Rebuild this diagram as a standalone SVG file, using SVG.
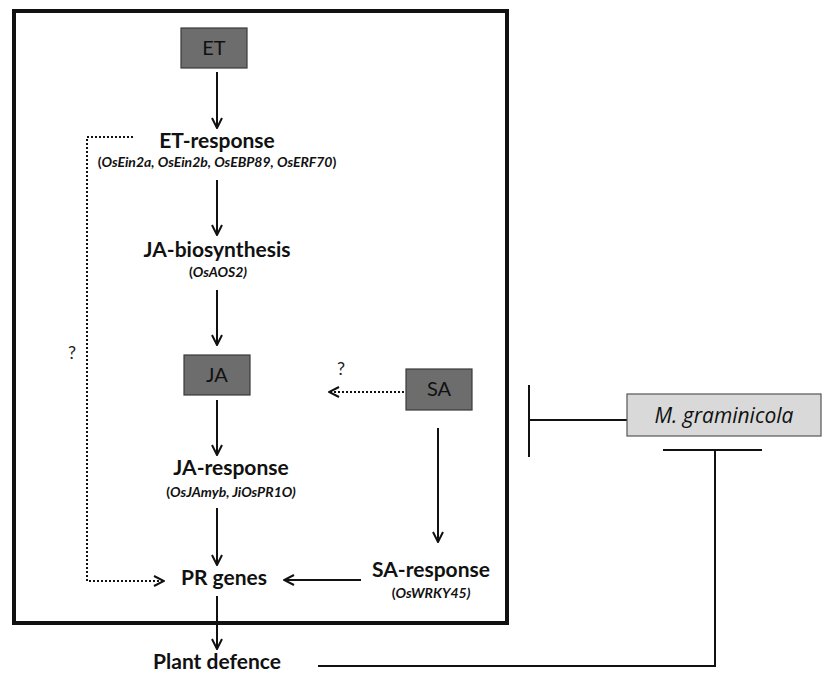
<svg xmlns="http://www.w3.org/2000/svg" width="840" height="673" viewBox="0 0 840 673">
<style>
.hbox{fill:#6d6d6d;stroke:#3a3a3a;stroke-width:1.2}
.htxt{font-family:Lato,"Open Sans",sans-serif;font-size:20px;fill:#111;text-anchor:middle}
.lbl{font-family:Lato,"Open Sans",sans-serif;font-size:21px;font-weight:bold;fill:#111;text-anchor:middle}
.sub{font-family:Lato,"Open Sans",sans-serif;font-size:14px;font-weight:bold;font-style:italic;fill:#111;text-anchor:middle}
.up{font-style:normal}
.q{font-family:Lato,"Open Sans",sans-serif;font-size:18px;fill:#222;text-anchor:middle}
.ln{stroke:#111;stroke-width:2;fill:none}
.dot{stroke:#111;stroke-width:2;fill:none;stroke-dasharray:2 2}
</style>
<defs>
<marker id="ah" viewBox="0 0 12 12" refX="11" refY="6" markerWidth="12" markerHeight="12" markerUnits="userSpaceOnUse" orient="auto">
<path d="M1,1 L11,6 L1,11" fill="none" stroke="#111" stroke-width="2"/>
</marker>
</defs>
<rect x="0" y="0" width="840" height="673" fill="#fff"/>
<rect id="frame" x="14" y="11" width="493" height="612" fill="none" stroke="#111" stroke-width="4"/>

<g id="connectors">
<line class="ln" x1="217" y1="72" x2="217" y2="128" marker-end="url(#ah)"/>
<line class="ln" x1="217" y1="180" x2="217" y2="235" marker-end="url(#ah)"/>
<line class="ln" x1="217" y1="290" x2="217" y2="345" marker-end="url(#ah)"/>
<line class="ln" x1="217" y1="400" x2="217" y2="455" marker-end="url(#ah)"/>
<line class="ln" x1="217" y1="508" x2="217" y2="565" marker-end="url(#ah)"/>
<line class="ln" x1="217" y1="596" x2="217" y2="649" marker-end="url(#ah)"/>
<line class="ln" x1="438" y1="428" x2="438" y2="542" marker-end="url(#ah)"/>
<line class="ln" x1="361" y1="580" x2="284" y2="580" marker-end="url(#ah)"/>
<polyline class="dot" points="133,137 87,137 87,581 164,581" marker-end="url(#ah)"/>
<line class="dot" x1="404" y1="392" x2="329" y2="392" marker-end="url(#ah)"/>
<line class="ln" x1="627" y1="420" x2="529" y2="420"/>
<line class="ln" x1="529" y1="385" x2="529" y2="457"/>
<polyline class="ln" points="318,666 715,666 715,450"/>
<line class="ln" x1="663" y1="450" x2="762" y2="450"/>
<text class="q" x="72" y="359">?</text>
<text class="q" x="341" y="375">?</text>
</g>

<g id="ET"><rect class="hbox" x="181" y="28" width="66" height="40"/><text class="htxt" x="214" y="55">ET</text></g>
<g id="ET-response"><text class="lbl" x="217" y="148">ET-response</text><text class="sub" x="217" y="167"><tspan class="up">(</tspan>OsEin2a, OsEin2b, OsEBP89, OsERF70<tspan class="up">)</tspan></text></g>
<g id="JA-biosynthesis"><text class="lbl" x="217" y="257">JA-biosynthesis</text><text class="sub" x="218" y="277"><tspan class="up">(</tspan>OsAOS2)</text></g>
<g id="JA"><rect class="hbox" x="184" y="355" width="66" height="40"/><text class="htxt" x="217" y="382">JA</text></g>
<g id="SA"><rect class="hbox" x="406" y="369" width="66" height="41"/><text class="htxt" x="439" y="396">SA</text></g>
<g id="JA-response"><text class="lbl" x="231" y="475">JA-response</text><text class="sub" x="231" y="497"><tspan class="up">(</tspan>OsJAmyb, JiOsPR1O)</text></g>
<g id="PR-genes"><text class="lbl" x="224" y="585">PR genes</text></g>
<g id="SA-response"><text class="lbl" x="431" y="577">SA-response</text><text class="sub" x="431" y="598"><tspan class="up">(</tspan>OsWRKY45)</text></g>
<g id="Plant-defence"><text class="lbl" x="217" y="669">Plant defence</text></g>
<g id="M-graminicola"><rect x="627" y="394" width="194" height="42" fill="#d9d9d9" stroke="#555" stroke-width="1.2"/><text x="724" y="423" font-family="'Open Sans',Lato,sans-serif" font-size="21" font-style="italic" fill="#111" text-anchor="middle">M. graminicola</text></g>
</svg>
